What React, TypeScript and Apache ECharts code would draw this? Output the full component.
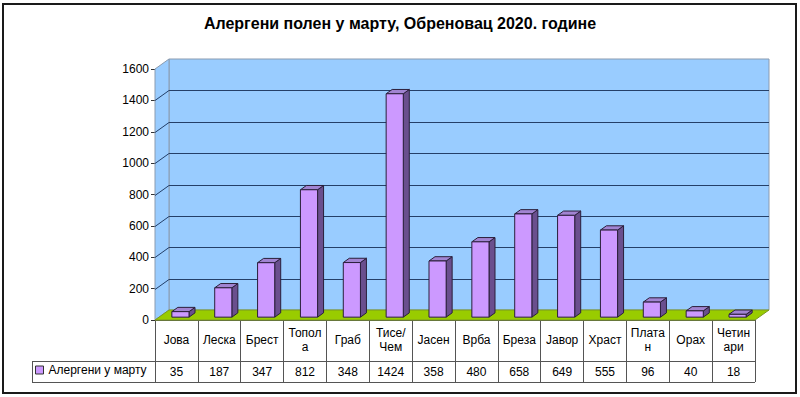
import React, { useEffect, useRef } from "react";
import * as echarts from "echarts";

const titleText = "Алергени полен у марту, Обреновац 2020. године";
const seriesName = "Алергени у марту";
const categories = [
  "Јова",
  "Леска",
  "Брест",
  "Топол\nа",
  "Граб",
  "Тисе/\nЧем",
  "Јасен",
  "Врба",
  "Бреза",
  "Јавор",
  "Храст",
  "Плата\nн",
  "Орах",
  "Четин\nари",
];
const values = [35, 187, 347, 812, 348, 1424, 358, 480, 658, 649, 555, 96, 40, 18];
const yTicks = [0, 200, 400, 600, 800, 1000, 1200, 1400, 1600];
const yMax = 1600;
const yStep = 200;

// 3D depth of the plot box
const DX = 14;
const DY = -10;

const FONT = "'Liberation Sans', Arial, sans-serif";

export default function App() {
  const ref = useRef<HTMLDivElement>(null);

  useEffect(() => {
    if (!ref.current) return;
    const chart = echarts.init(ref.current, undefined, { renderer: "svg" });

    const wallsRender = (params: any, api: any) => {
      const bw = api.size([1, 0])[0];
      const p0 = api.coord([0, 0]);
      const xl = p0[0] - bw / 2;
      const xr = api.coord([categories.length - 1, 0])[0] + bw / 2;
      const y0 = p0[1];
      const yTop = api.coord([0, yMax])[1];
      const children: any[] = [];
      children.push({
        type: "rect",
        shape: { x: xl + DX, y: yTop + DY, width: xr - xl, height: y0 - yTop },
        style: { fill: "#99ccff", stroke: "#8a9bb0", lineWidth: 1 },
      });
      children.push({
        type: "polygon",
        shape: {
          points: [
            [xl, y0],
            [xl, yTop],
            [xl + DX, yTop + DY],
            [xl + DX, y0 + DY],
          ],
        },
        style: { fill: "#99ccff", stroke: "#8a9bb0", lineWidth: 1 },
      });
      yTicks.forEach((t) => {
        if (t === 0 || t === yMax) return;
        const y = Math.round(api.coord([0, t])[1]) + 0.5;
        children.push({
          type: "polyline",
          shape: {
            points: [
              [xl, y],
              [xl + DX, y + DY],
              [xr + DX, y + DY],
            ],
          },
          style: { stroke: "#243f68", lineWidth: 1, fill: null },
        });
      });
      children.push({
        type: "polygon",
        shape: {
          points: [
            [xl, y0],
            [xl + DX, y0 + DY],
            [xr + DX, y0 + DY],
            [xr, y0],
          ],
        },
        style: { fill: "#99cc00", stroke: "#7a9a20", lineWidth: 1 },
      });
      return { type: "group", children };
    };

    const barsRender = (params: any, api: any) => {
      const i = api.value(0);
      const v = api.value(1);
      const bw = api.size([1, 0])[0];
      const c = api.coord([i, v]);
      const b = api.coord([i, 0]);
      const w = bw * 0.4;
      const fOff = 4 / 14;
      const depth = 6 / 14;
      const ox = DX * fOff;
      const oy = DY * fOff;
      const bdx = DX * depth;
      const bdy = DY * depth;
      const fx = c[0] + ox - w / 2;
      const top = c[1] + oy;
      const base = b[1] + oy;
      const stroke = { stroke: "#2a1f3a", lineWidth: 1 };
      return {
        type: "group",
        children: [
          {
            type: "polygon",
            shape: {
              points: [
                [fx + w, top],
                [fx + w + bdx, top + bdy],
                [fx + w + bdx, base + bdy],
                [fx + w, base],
              ],
            },
            style: { fill: "#6a4f8e", ...stroke },
          },
          {
            type: "polygon",
            shape: {
              points: [
                [fx, top],
                [fx + bdx, top + bdy],
                [fx + w + bdx, top + bdy],
                [fx + w, top],
              ],
            },
            style: { fill: "#a184d2", ...stroke },
          },
          {
            type: "rect",
            shape: { x: fx, y: top, width: w, height: base - top },
            style: { fill: "#cc99ff", ...stroke },
          },
        ],
      };
    };

    const tableLine = "#555555";

    chart.setOption({
      animation: false,
      backgroundColor: "#ffffff",
      textStyle: { fontFamily: FONT },
      title: {
        text: titleText,
        left: "center",
        top: 10,
        textStyle: { fontSize: 16, fontWeight: "bold", color: "#000", fontFamily: FONT },
      },
      legend: {
        left: 35,
        top: 364,
        padding: 0,
        itemWidth: 8,
        itemHeight: 8,
        selectedMode: false,
        data: [
          {
            name: seriesName,
            icon: "rect",
            itemStyle: { color: "#cc99ff", borderColor: "#333", borderWidth: 1 },
          },
        ],
        textStyle: { fontSize: 12, color: "#000", fontFamily: FONT },
      },
      grid: { left: 155, right: 45, top: 69, bottom: 77 },
      xAxis: [
        {
          type: "category",
          data: categories,
          position: "bottom",
          axisLine: { show: true, lineStyle: { color: tableLine } },
          axisTick: { show: true, length: 62, lineStyle: { color: tableLine } },
          axisLabel: {
            interval: 0,
            margin: 20,
            verticalAlign: "middle",
            lineHeight: 14,
            fontSize: 12,
            color: "#000",
            fontFamily: FONT,
          },
          splitLine: { show: false },
        },
        {
          type: "category",
          data: categories,
          position: "bottom",
          offset: 41,
          axisLine: { show: true, lineStyle: { color: tableLine } },
          axisTick: { show: false },
          axisLabel: {
            interval: 0,
            margin: 11,
            verticalAlign: "middle",
            fontSize: 12,
            color: "#000",
            fontFamily: FONT,
            formatter: (_v: string, idx: number) => String(values[idx]),
          },
          splitLine: { show: false },
        },
      ],
      yAxis: {
        type: "value",
        min: 0,
        max: yMax,
        interval: yStep,
        axisLine: { show: true, lineStyle: { color: "#8a9bb0" } },
        axisTick: { show: true, length: 4, lineStyle: { color: "#333" } },
        axisLabel: {
          margin: 6,
          fontSize: 12,
          color: "#000",
          fontFamily: FONT,
          formatter: (v: number) => String(v),
        },
        splitLine: { show: false },
      },
      graphic: [
        {
          type: "rect",
          shape: { x: 3, y: 4, width: 793, height: 389 },
          style: { fill: null, stroke: "#1a1a1a", lineWidth: 2 },
          silent: true,
        },
        {
          type: "line",
          shape: { x1: 32, y1: 361.5, x2: 155, y2: 361.5 },
          style: { stroke: tableLine, lineWidth: 1 },
        },
        {
          type: "line",
          shape: { x1: 32, y1: 382.5, x2: 755, y2: 382.5 },
          style: { stroke: tableLine, lineWidth: 1 },
        },
        {
          type: "line",
          shape: { x1: 32.5, y1: 361.5, x2: 32.5, y2: 382.5 },
          style: { stroke: tableLine, lineWidth: 1 },
        },
      ],
      series: [
        {
          type: "custom",
          name: "walls",
          silent: true,
          clip: false,
          z: 1,
          renderItem: wallsRender,
          data: [[0, 0]],
          encode: { x: 0, y: 1 },
        },
        {
          type: "custom",
          name: seriesName,
          clip: false,
          z: 3,
          itemStyle: { color: "#cc99ff" },
          renderItem: barsRender,
          data: values.map((v, i) => [i, v]),
          encode: { x: 0, y: 1 },
        },
      ],
    });

    return () => chart.dispose();
  }, []);

  return (
    <div
      ref={ref}
      style={{ position: "absolute", left: 0, top: 0, width: 800, height: 397 }}
    />
  );
}
